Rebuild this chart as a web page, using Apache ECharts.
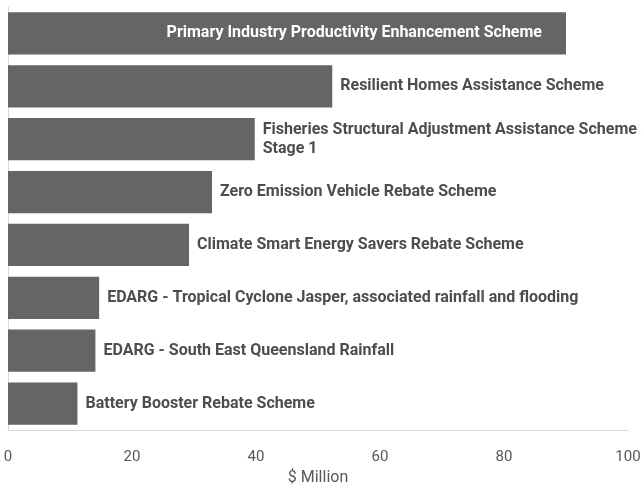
<!DOCTYPE html>
<html>
<head>
<meta charset="utf-8">
<script src="https://cdn.jsdelivr.net/npm/echarts@6/dist/echarts.min.js"></script>
<style>
html,body{margin:0;padding:0;background:#fff;}
#chart{width:642px;height:485px;}
</style>
</head>
<body>
<div id="chart"></div>
<script>
const categories = [
  "Primary Industry Productivity Enhancement Scheme",
  "Resilient Homes Assistance Scheme",
  "Fisheries Structural Adjustment Assistance Scheme -\nStage 1",
  "Zero Emission Vehicle Rebate Scheme",
  "Climate Smart Energy Savers Rebate Scheme",
  "EDARG - Tropical Cyclone Jasper, associated rainfall and flooding",
  "EDARG - South East Queensland Rainfall",
  "Battery Booster Rebate Scheme"
];
const values = [90, 52.3, 39.8, 32.9, 29.2, 14.7, 14.1, 11.2];
const xTicks = [0, 20, 40, 60, 80, 100];
const axisTitle = "$ Million";

const FONT = "Roboto";
const chart = echarts.init(document.getElementById('chart'), null, {renderer: 'canvas'});
const data = values.map((v, i) => {
  const item = {value: v};
  if (i === 0) {
    item.label = {position: 'insideRight', distance: 24, color: '#ffffff', align: 'right'};
  }
  return item;
});
chart.setOption({
  animation: false,
  grid: {left: 8, right: 14, top: 7, bottom: 55, containLabel: false, outerBoundsMode: 'none'},
  xAxis: {
    type: 'value',
    min: xTicks[0],
    max: xTicks[xTicks.length - 1],
    interval: 20,
    name: axisTitle,
    nameLocation: 'middle',
    nameGap: 39,
    nameTextStyle: {color: '#595959', fontSize: 16, fontFamily: FONT},
    axisLine: {show: true, lineStyle: {color: '#d9d9d9', width: 1}},
    axisTick: {show: false},
    splitLine: {show: false},
    axisLabel: {color: '#595959', fontSize: 15, fontFamily: FONT, margin: 20}
  },
  yAxis: {
    type: 'category',
    data: categories,
    inverse: true,
    axisLine: {show: true, lineStyle: {color: '#d9d9d9', width: 1}},
    axisTick: {show: false},
    axisLabel: {show: false},
    splitLine: {show: false}
  },
  series: [{
    type: 'bar',
    data: data,
    barCategoryGap: '20%',
    itemStyle: {color: '#666466'},
    label: {
      show: true,
      position: 'right',
      distance: 8,
      formatter: p => categories[p.dataIndex],
      color: '#4d4d4d',
      fontSize: 16,
      fontWeight: 'bold',
      fontFamily: FONT,
      lineHeight: 19,
      align: 'left'
    }
  }]
});
</script>
</body>
</html>
